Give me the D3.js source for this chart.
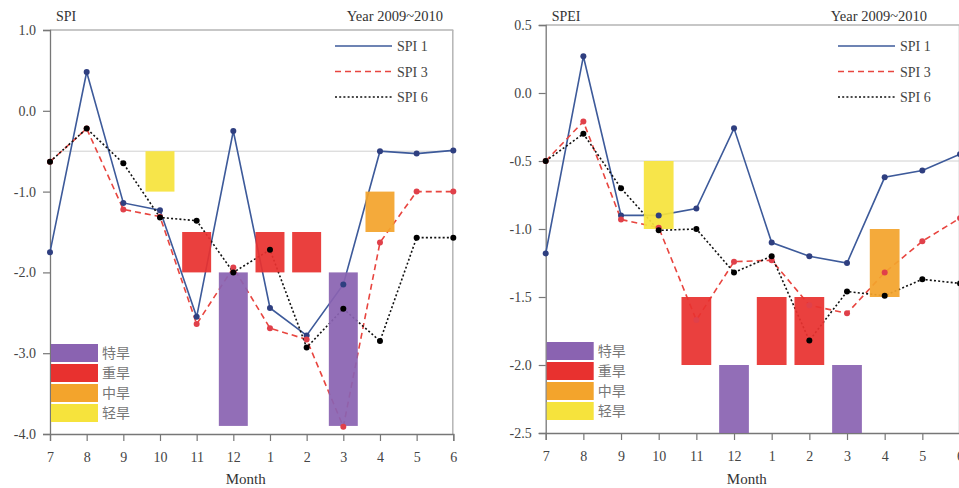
<!DOCTYPE html>
<html>
<head>
<meta charset="utf-8">
<script src="https://cdn.jsdelivr.net/npm/d3@7"></script>
<style>
  body { margin: 0; background: #fff; }
  svg { display: block; font-family: "Liberation Serif", "DejaVu Serif", serif; }
  .cjk { font-family: "Noto Sans CJK SC", sans-serif; }
</style>
</head>
<body>
<script>
const width = 959;
const height = 488;

// months from July 2009 to June 2010
const months = ["7", "8", "9", "10", "11", "12", "1", "2", "3", "4", "5", "6"];

// left panel: SPI
const spi1 = [-1.75, 0.48, -1.14, -1.23, -2.55, -0.25, -2.44, -2.78, -2.15, -0.50, -0.53, -0.49];
const spi3 = [-0.63, -0.22, -1.22, -1.31, -2.64, -1.94, -2.69, -2.83, -3.91, -1.63, -1.00, -1.00];
const spi6 = [-0.63, -0.22, -0.65, -1.32, -1.36, -2.00, -1.72, -2.93, -2.45, -2.85, -1.57, -1.57];

// right panel: SPEI
const spei1 = [-1.18, 0.27, -0.90, -0.90, -0.85, -0.26, -1.10, -1.20, -1.25, -0.62, -0.57, -0.45];
const spei3 = [-0.50, -0.21, -0.93, -0.99, -1.67, -1.24, -1.23, -1.56, -1.62, -1.32, -1.09, -0.92];
const spei6 = [-0.50, -0.30, -0.70, -1.01, -1.00, -1.32, -1.20, -1.82, -1.46, -1.49, -1.37, -1.40];

// drought grade legend
const grades = ["特旱", "重旱", "中旱", "轻旱"];
const gradeColors = ["#8a63b1", "#e8312f", "#f3a42c", "#f6e33c"];

// drought bars: month, grade index, top, bottom
const spiBars = [
  { month: "10", grade: 3, top: -0.5, bottom: -1.0 },
  { month: "11", grade: 1, top: -1.5, bottom: -2.0 },
  { month: "12", grade: 0, top: -2.0, bottom: -3.9 },
  { month: "1",  grade: 1, top: -1.5, bottom: -2.0 },
  { month: "2",  grade: 1, top: -1.5, bottom: -2.0 },
  { month: "3",  grade: 0, top: -2.0, bottom: -3.9 },
  { month: "4",  grade: 2, top: -1.0, bottom: -1.5 }
];
const speiBars = [
  { month: "10", grade: 3, top: -0.5, bottom: -1.0 },
  { month: "11", grade: 1, top: -1.5, bottom: -2.0 },
  { month: "12", grade: 0, top: -2.0, bottom: -2.5 },
  { month: "1",  grade: 1, top: -1.5, bottom: -2.0 },
  { month: "2",  grade: 1, top: -1.5, bottom: -2.0 },
  { month: "3",  grade: 0, top: -2.0, bottom: -2.5 },
  { month: "4",  grade: 2, top: -1.0, bottom: -1.5 }
];

const spiTicks = [1, 0, -1, -2, -3, -4];
const speiTicks = [0.5, 0, -0.5, -1, -1.5, -2, -2.5];

const seriesNames = ["SPI 1", "SPI 3", "SPI 6"];
const seriesStyle = [
  { color: "#3d5a9a", dot: "#2f3f80", dash: null },
  { color: "#e8453f", dot: "#e0404a", dash: "6,4" },
  { color: "#111111", dot: "#000000", dash: "2,2.2" }
];

const svg = d3.select("body").append("svg")
    .attr("width", width)
    .attr("height", height);

drawPanel({
  left: 50, right: 453.3, top: 30, bottom: 434,
  domain: [-4, 1], ticks: spiTicks, title: "SPI", yearEnd: 443,
  series: [spi1, spi3, spi6], bars: spiBars,
  legendX: 335, legendY: 46, swatchY: 344
});

drawPanel({
  left: 545.7, right: 960, top: 25, bottom: 433,
  domain: [-2.5, 0.5], ticks: speiTicks, title: "SPEI", yearEnd: 927,
  series: [spei1, spei3, spei6], bars: speiBars,
  legendX: 838, legendY: 46, swatchY: 342
});

function drawPanel(p) {
  const g = svg.append("g");

  const x = d3.scalePoint()
      .domain(months)
      .range([p.left, p.right]);

  const y = d3.scaleLinear()
      .domain(p.domain)
      .range([p.bottom, p.top]);

  const step = x.step();
  const barW = step * 0.79;

  // frame
  g.append("line")
      .attr("x1", p.left).attr("x2", p.right)
      .attr("y1", p.top).attr("y2", p.top)
      .attr("stroke", "#b5b5b5").attr("stroke-width", 1.5);
  g.append("line")
      .attr("x1", p.right - 0.5).attr("x2", p.right - 0.5)
      .attr("y1", p.top).attr("y2", p.bottom)
      .attr("stroke", "#b5b5b5").attr("stroke-width", 1.5);

  // -0.5 reference
  g.append("line")
      .attr("x1", p.left).attr("x2", p.right)
      .attr("y1", y(-0.5)).attr("y2", y(-0.5))
      .attr("stroke", "#d0d0d0").attr("stroke-width", 1);

  // axes
  const yAxis = g.append("g")
      .attr("transform", "translate(" + p.left + ",0)")
      .call(d3.axisLeft(y).tickValues(p.ticks).tickSize(7).tickPadding(7)
          .tickFormat(function (d) { return d.toFixed(1); }));
  const xAxis = g.append("g")
      .attr("transform", "translate(0," + p.bottom + ")")
      .call(d3.axisBottom(x).tickSize(7).tickPadding(11));

  [yAxis, xAxis].forEach(function (a) {
    a.select(".domain").attr("stroke", "#777").attr("stroke-width", 1.3);
    a.selectAll(".tick line").attr("stroke", "#777").attr("stroke-width", 1.2);
    a.selectAll(".tick text")
        .attr("fill", "#444")
        .style("font-family", "Liberation Serif")
        .style("font-size", "14px");
  });

  // lines
  const line = d3.line()
      .x(function (d, i) { return x(months[i]); })
      .y(function (d) { return y(d); });

  p.series.forEach(function (values, k) {
    const s = seriesStyle[k];
    g.append("path")
        .datum(values)
        .attr("d", line)
        .attr("fill", "none")
        .attr("stroke", s.color)
        .attr("stroke-width", 1.6)
        .attr("stroke-dasharray", s.dash);
  });

  // drought bars
  g.append("g").selectAll("rect")
      .data(p.bars)
      .enter().append("rect")
      .attr("x", function (d) { return x(d.month) - barW / 2; })
      .attr("y", function (d) { return y(d.top); })
      .attr("width", barW)
      .attr("height", function (d) { return y(d.bottom) - y(d.top); })
      .attr("fill", function (d) { return gradeColors[d.grade]; })
      .attr("fill-opacity", 0.93);

  // points
  p.series.forEach(function (values, k) {
    const s = seriesStyle[k];
    g.append("g").selectAll("circle")
        .data(values)
        .enter().append("circle")
        .attr("cx", function (d, i) { return x(months[i]); })
        .attr("cy", function (d) { return y(d); })
        .attr("r", 3)
        .attr("fill", s.dot);
  });

  // titles
  g.append("text")
      .attr("x", p.left + 6).attr("y", 21)
      .attr("fill", "#333")
      .style("font-size", "14px")
      .text(p.title);
  g.append("text")
      .attr("x", p.yearEnd).attr("y", 21)
      .attr("text-anchor", "end")
      .attr("fill", "#333")
      .style("font-size", "14.5px")
      .text("Year 2009~2010");

  g.append("text")
      .attr("x", (p.left + p.right) / 2 - 6).attr("y", 484)
      .attr("text-anchor", "middle")
      .attr("fill", "#333")
      .style("font-size", "15px")
      .text("Month");

  // series legend
  seriesNames.forEach(function (name, k) {
    const s = seriesStyle[k];
    const ly = p.legendY + k * 25.5;
    g.append("line")
        .attr("x1", p.legendX).attr("x2", p.legendX + 57)
        .attr("y1", ly).attr("y2", ly)
        .attr("stroke", s.color)
        .attr("stroke-width", 1.6)
        .attr("stroke-dasharray", s.dash);
    g.append("text")
        .attr("x", p.legendX + 62).attr("y", ly + 5)
        .attr("fill", "#444")
        .style("font-size", "14px")
        .text(name);
  });

  // grade legend
  grades.forEach(function (name, k) {
    const sy = p.swatchY + k * 20;
    g.append("rect")
        .attr("x", p.left + 1).attr("y", sy)
        .attr("width", 47).attr("height", 18)
        .attr("fill", gradeColors[k]);
    g.append("text")
        .attr("class", "cjk")
        .attr("x", p.left + 52).attr("y", sy + 14)
        .attr("fill", "#777")
        .style("font-size", "14px")
        .text(name);
  });
}
</script>
</body>
</html>
